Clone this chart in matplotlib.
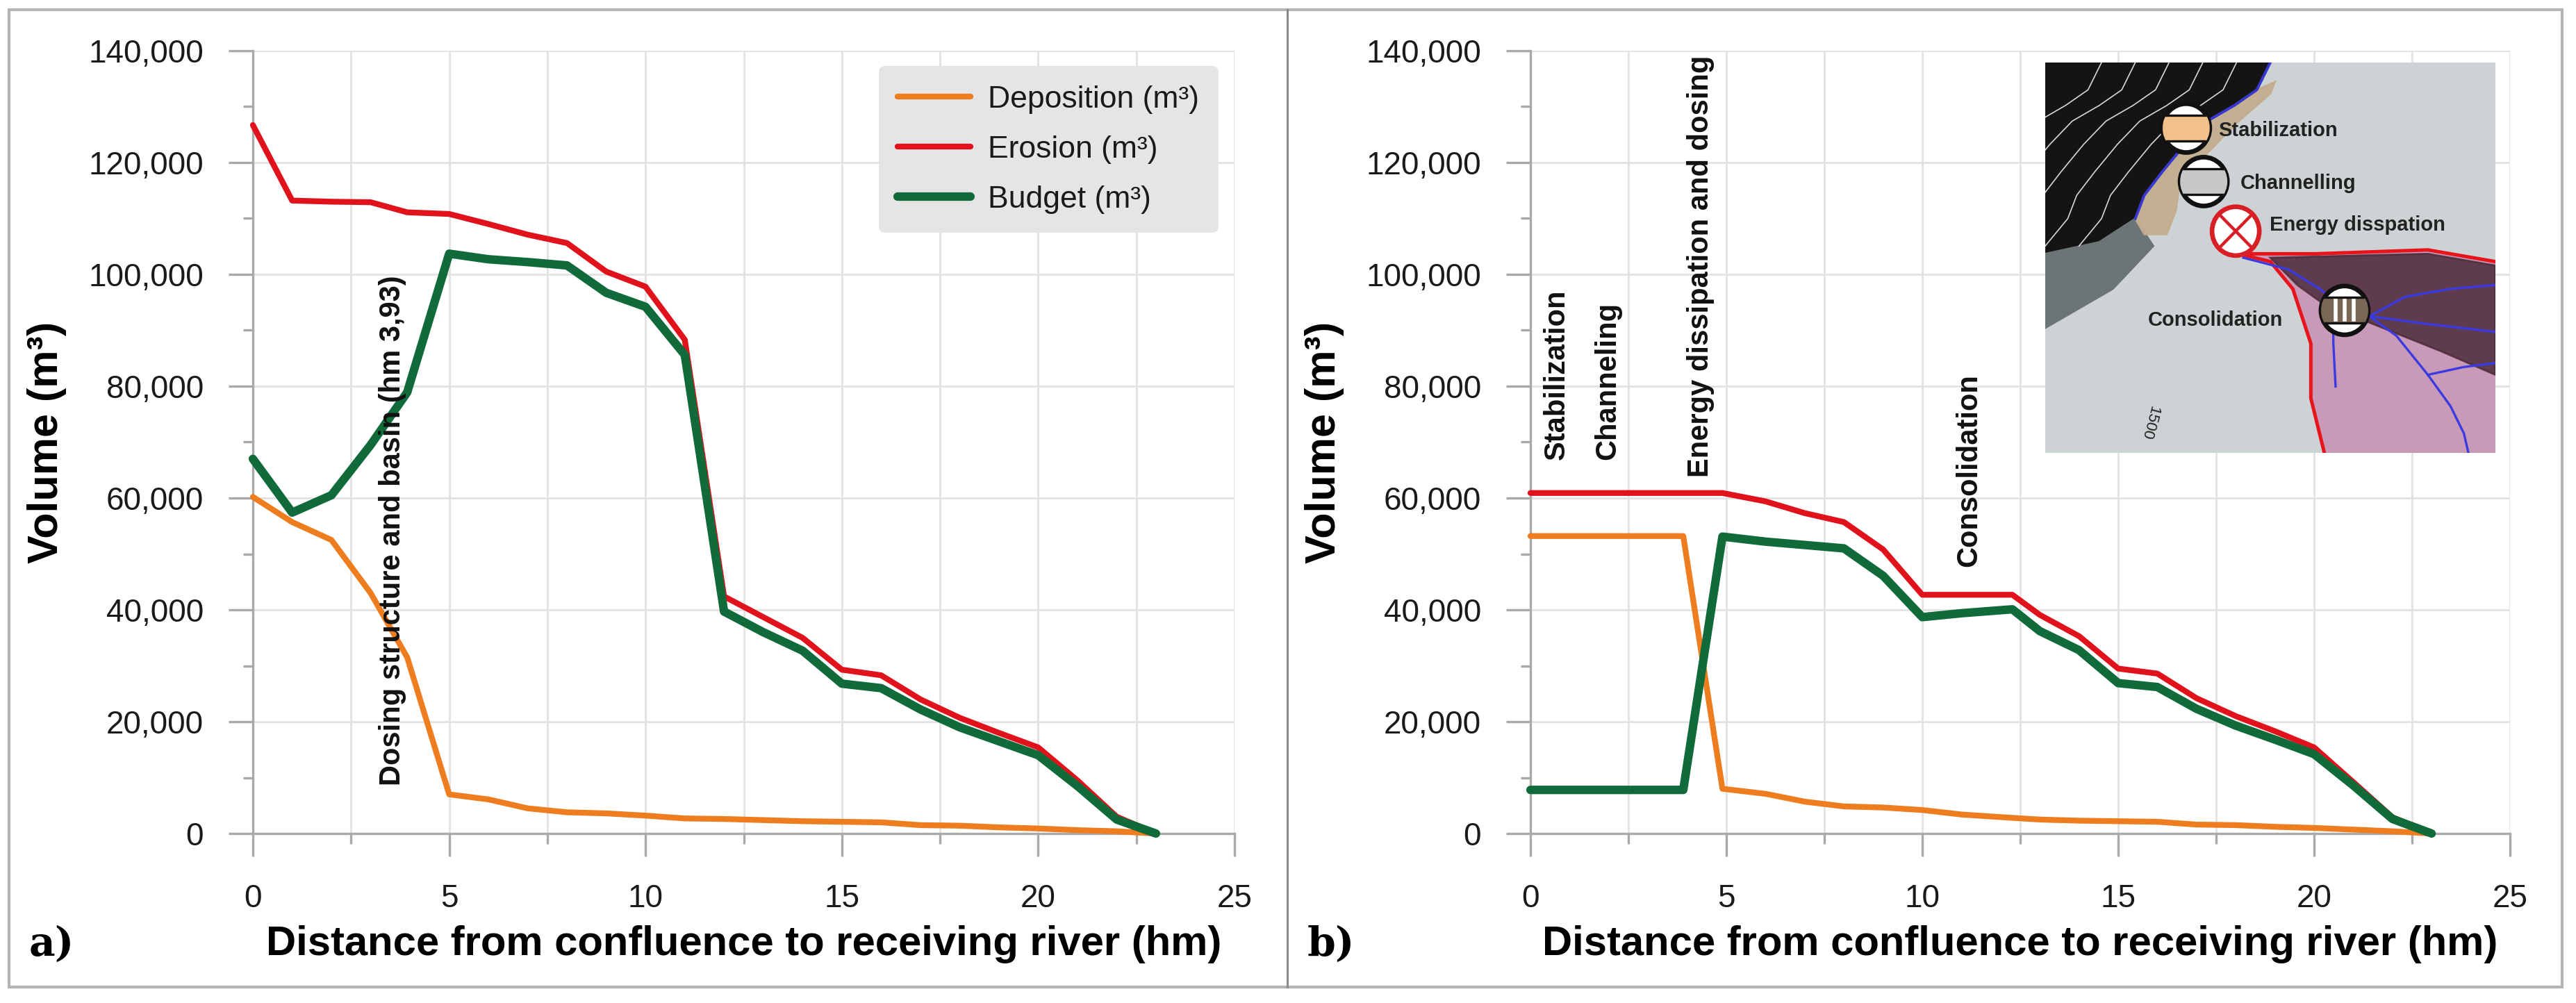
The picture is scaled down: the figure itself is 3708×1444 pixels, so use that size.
import numpy as np
import matplotlib
matplotlib.use("Agg")
import matplotlib.pyplot as plt
from matplotlib.patches import Rectangle, Ellipse, Polygon
from matplotlib.lines import Line2D
from matplotlib.ticker import FuncFormatter

plt.rcParams['font.family'] = ['Liberation Sans', 'DejaVu Sans']

W, H, DPI = 3708, 1444, 200

# ---- data ----
x_a = [0, 1, 2, 3, 3.93, 5, 6, 7, 8, 9, 10, 11, 12, 13, 14, 15, 16, 17, 18, 19, 20, 21, 22, 23]
dep_a = [60200, 55700, 52500, 43000, 31500, 7000, 6100, 4500, 3800, 3600, 3200, 2700,
         2600, 2400, 2200, 2100, 2000, 1500, 1400, 1100, 900, 600, 400, 0]
ero_a = [126700, 113200, 113000, 112900, 111100, 110800, 109000, 107100, 105600, 100500, 97800, 88300,
         42400, 38700, 35000, 29300, 28300, 24000, 20700, 18000, 15400, 9500, 3000, 0]
bud_a = [67000, 57400, 60500, 69500, 78900, 103700, 102700, 102200, 101600, 96700, 94200, 85600,
         39700, 36000, 32700, 26800, 26000, 22200, 19000, 16500, 14000, 8500, 2500, 0]

x_b = [0, 1, 2, 3, 3.9, 4.9, 6, 7, 8, 9, 10, 11, 12.3, 13, 14, 15, 16, 17, 18, 19, 20, 21, 22, 23]
dep_b = [53200, 53200, 53200, 53200, 53200, 8000, 7100, 5700, 4850, 4650, 4200, 3400,
         2800, 2500, 2300, 2200, 2100, 1600, 1500, 1200, 1000, 700, 400, 0]
ero_b = [60900, 60900, 60900, 60900, 60900, 60900, 59400, 57300, 55700, 50800, 42700, 42700,
         42700, 39100, 35300, 29500, 28600, 24200, 21000, 18300, 15400, 9200, 2900, 0]
bud_b = [7800, 7800, 7800, 7800, 7800, 53100, 52200, 51600, 51000, 46100, 38700, 39400,
         40100, 36200, 32800, 26900, 26200, 22300, 19300, 16800, 14200, 8600, 2600, 0]

series_names = ['Deposition (m³)', 'Erosion (m³)', 'Budget (m³)']
series_colors = ['#ee7d1f', '#e0131d', '#106a39']
series_widths = [3.0, 3.0, 4.4]

notes_a = [(3.55, 8600, 'Dosing structure and basin (hm 3,93)')]
notes_b = [(0.67, 66800, 'Stabilization'), (1.97, 66800, 'Channeling'),
           (4.35, 63700, 'Energy dissipation and dosing'), (11.2, 47700, 'Consolidation')]

xlabel = 'Distance from confluence to receiving river (hm)'
ylabel = 'Volume (m³)'

fig = plt.figure(figsize=(W / DPI, H / DPI), dpi=DPI)

axis_grey = '#a9a9a9'
grid_grey = '#e2e2e2'


def style(ax):
    ax.set_xlim(0, 25)
    ax.set_ylim(0, 140000)
    ax.set_xticks(np.arange(0, 26, 5))
    ax.set_xticks(np.arange(0, 26, 2.5), minor=True)
    ax.set_yticks(np.arange(0, 140001, 20000))
    ax.set_yticks(np.arange(0, 140001, 10000), minor=True)
    ax.yaxis.set_major_formatter(FuncFormatter(lambda v, p: f'{v:,.0f}'))
    ax.grid(which='major', color=grid_grey, lw=1.0)
    ax.grid(which='minor', axis='x', color=grid_grey, lw=1.0)
    ax.set_axisbelow(True)
    for s in ['top', 'right']:
        ax.spines[s].set_visible(False)
    for s in ['left', 'bottom']:
        ax.spines[s].set_color(axis_grey)
        ax.spines[s].set_linewidth(1.2)
    ax.tick_params(which='both', color=axis_grey, width=1.2, labelsize=16.5, labelcolor='#1a1a1a')
    ax.tick_params(axis='y', which='major', length=12.5, pad=13)
    ax.tick_params(axis='y', which='minor', length=5)
    ax.tick_params(axis='x', which='major', length=12, pad=14)
    ax.tick_params(axis='x', which='minor', length=5.5)
    ax.set_xlabel(xlabel, fontsize=21.5, fontweight='bold', va='top')
    ax.xaxis.set_label_coords(0.5, -0.117)
    ax.set_ylabel(ylabel, fontsize=22, fontweight='bold')
    ax.yaxis.set_label_coords(-0.19, 0.5)


def draw(ax, x, dep, ero, bud):
    for y, name, c, lw in zip([dep, ero, bud], series_names, series_colors, series_widths):
        ax.plot(x, y, color=c, lw=lw, label=name, clip_on=False,
                solid_joinstyle='round', solid_capstyle='round', zorder=3)


ax_a = fig.add_axes([364 / W, 1 - 1200 / H, 1413 / W, 1127 / H])
ax_b = fig.add_axes([2203 / W, 1 - 1200 / H, 1410 / W, 1127 / H])
style(ax_a)
style(ax_b)
draw(ax_a, x_a, dep_a, ero_a, bud_a)
draw(ax_b, x_b, dep_b, ero_b, bud_b)

for ax, notes in [(ax_a, notes_a), (ax_b, notes_b)]:
    for nx, ny, txt in notes:
        ax.text(nx, ny, txt, rotation=90, ha='center', va='bottom',
                fontsize=15, fontweight='bold', color='#111111', zorder=5)

leg = ax_a.legend(loc='upper right', bbox_to_anchor=(0.9835, 0.9805), borderaxespad=0,
                  fontsize=16, handlelength=2.36, handletextpad=0.56, labelspacing=0.7,
                  borderpad=0.62, fancybox=True, framealpha=1, facecolor='#e5e5e5',
                  edgecolor='none')
for t in leg.get_texts():
    t.set_color('#1a1a1a')

# panel letters
fig.text(42 / W, 1 - 1360 / H, 'a)', fontsize=21, fontweight='bold',
         family='DejaVu Serif', ha='left', va='center')
fig.text(1882 / W, 1 - 1360 / H, 'b)', fontsize=21, fontweight='bold',
         family='DejaVu Serif', ha='left', va='center')

# outer frame and divider
fig.add_artist(Rectangle((13 / W, 1 - 1421 / H), (3688 - 13) / W, (1421 - 14) / H,
                         transform=fig.transFigure, fill=False, ec='#b5b5b5', lw=1.5))
fig.add_artist(Line2D([1853 / W, 1853 / W], [1 - 1421 / H, 1 - 14 / H],
                      transform=fig.transFigure, color='#8a8a8a', lw=1.1))

# ---- inset map (schematic) ----
ins = fig.add_axes([2944 / W, 1 - 652 / H, 648 / W, 562 / H])
ins.set_xlim(0, 1)
ins.set_ylim(1, 0)
ins.axis('off')
ins.add_patch(Rectangle((0, 0), 1, 1, color='#cdd3d4'))

river = [(0.50, 0.0), (0.47, 0.07), (0.42, 0.11), (0.36, 0.15), (0.31, 0.21),
         (0.26, 0.28), (0.22, 0.34), (0.20, 0.40)]
ins.add_patch(Polygon([(0, 0)] + river + [(0.12, 0.46), (0.0, 0.49)], color='#141414'))
ins.add_patch(Polygon([(0, 0.49), (0.12, 0.46), (0.20, 0.40), (0.24, 0.47), (0.15, 0.58),
                       (0.0, 0.68)], color='#6c7475'))
for k in range(1, 6):
    off = 0.075 * k
    ins.plot([px - off for px, py in river] + [0.2 - off - 0.05],
             [py for px, py in river] + [0.47], color='#d8d8d8', lw=0.6)

ins.add_patch(Polygon(river[1:] + [(0.22, 0.44), (0.27, 0.44), (0.29, 0.38), (0.30, 0.30),
                                   (0.37, 0.22), (0.43, 0.15), (0.50, 0.08), (0.51, 0.05)],
                      color='#c3ad8e', alpha=0.95))
ins.plot([p[0] for p in river], [p[1] for p in river], color='#3838d0', lw=1.4)

pink = [(0.43, 0.49), (0.6, 0.49), (0.85, 0.48), (1.0, 0.51), (1.0, 1.0), (0.62, 1.0),
        (0.59, 0.86), (0.59, 0.72), (0.57, 0.65), (0.55, 0.58), (0.50, 0.51)]
ins.add_patch(Polygon(pink, color='#c89ab8'))
ins.add_patch(Polygon([(0.50, 0.50), (0.85, 0.49), (1.0, 0.52), (1.0, 0.80), (0.88, 0.74),
                       (0.75, 0.68), (0.62, 0.62), (0.56, 0.57)], color='#4d2c3a', alpha=0.85))
ins.plot([p[0] for p in pink[:4]], [p[1] for p in pink[:4]], color='#e8141c', lw=1.8)
ins.plot([0.43] + [p[0] for p in pink[5:][::-1]], [0.49] + [p[1] for p in pink[5:][::-1]],
         color='#e8141c', lw=1.8)

streams = [
    [(0.44, 0.5), (0.54, 0.53), (0.61, 0.58), (0.65, 0.62), (0.72, 0.65), (0.85, 0.67), (1.0, 0.69)],
    [(0.72, 0.65), (0.78, 0.70), (0.85, 0.80), (0.90, 0.88), (0.93, 0.95), (0.94, 1.0)],
    [(0.64, 0.62), (0.64, 0.72), (0.645, 0.83)],
    [(0.85, 0.80), (0.93, 0.78), (1.0, 0.77)],
    [(0.72, 0.65), (0.80, 0.60), (0.90, 0.58), (1.0, 0.57)],
]
for s in streams:
    ins.plot([p[0] for p in s], [p[1] for p in s], color='#3a3ae0', lw=1.2)


def symbol(cx, cy, fill, kind='band'):
    e = Ellipse((cx, cy), 0.105, 0.125, fc='white', ec='#111111', lw=2.4, zorder=6)
    ins.add_patch(e)
    if kind == 'cross':
        e.set_edgecolor('#d81f26')
        ins.plot([cx - 0.034, cx + 0.034], [cy - 0.04, cy + 0.04], color='#d81f26', lw=1.6, zorder=7)
        ins.plot([cx - 0.034, cx + 0.034], [cy + 0.04, cy - 0.04], color='#d81f26', lw=1.6, zorder=7)
        return
    band = Rectangle((cx - 0.055, cy - 0.033), 0.11, 0.066, fc=fill, ec='#111111', lw=1.2, zorder=7)
    ins.add_patch(band)
    band.set_clip_path(e)
    if kind == 'bars':
        for dx in (-0.02, 0.0, 0.02):
            ins.plot([cx + dx, cx + dx], [cy - 0.024, cy + 0.024], color='white', lw=2.0, zorder=8)


symbol(0.313, 0.168, '#f2c08a')
symbol(0.352, 0.305, '#c8c8c8')
symbol(0.423, 0.432, None, 'cross')
symbol(0.665, 0.635, '#7a6654', 'bars')

map_labels = [(0.384, 0.175, 'Stabilization'), (0.434, 0.309, 'Channelling'),
              (0.498, 0.416, 'Energy disspation'), (0.228, 0.66, 'Consolidation')]
for lx, ly, txt in map_labels:
    ins.text(lx, ly, txt, fontsize=10.5, fontweight='bold', color='#222222',
             ha='left', va='center', zorder=9)
ins.text(0.231, 0.923, '1500', fontsize=8, color='#222222', rotation=-105,
         ha='center', va='center')

fig.savefig('out.png', dpi=DPI)
